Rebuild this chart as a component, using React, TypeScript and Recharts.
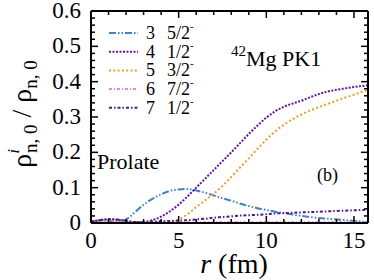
import React from 'react';
import { LineChart, Line, XAxis, YAxis } from 'recharts';

const R = [0, 0.5, 1, 1.5, 2, 2.5, 3, 3.5, 4, 4.5, 5, 5.5, 6, 6.5, 7, 7.5, 8, 8.5, 9, 9.5, 10, 10.5, 11, 11.5, 12, 12.5, 13, 13.5, 14, 14.5, 15, 15.5, 15.8];

const S3 = [0.001, 0.003, 0.005, 0.004, 0.01, 0.03, 0.052, 0.068, 0.081, 0.091, 0.095, 0.096, 0.092, 0.086, 0.078, 0.07, 0.063, 0.055, 0.048, 0.042, 0.037, 0.032, 0.028, 0.024, 0.02, 0.017, 0.014, 0.012, 0.01, 0.008, 0.006, 0.004, 0.003];
const S4 = [0.004, 0.008, 0.01, 0.009, 0.005, 0.003, 0.003, 0.008, 0.018, 0.033, 0.052, 0.075, 0.1, 0.125, 0.15, 0.175, 0.2, 0.226, 0.252, 0.276, 0.298, 0.316, 0.329, 0.338, 0.346, 0.356, 0.365, 0.372, 0.377, 0.381, 0.385, 0.388, 0.39];
const S5 = [0.001, 0.003, 0.005, 0.004, 0.002, 0.001, 0.001, 0.001, 0.001, 0.003, 0.01, 0.025, 0.045, 0.064, 0.083, 0.105, 0.13, 0.157, 0.183, 0.21, 0.236, 0.259, 0.278, 0.294, 0.307, 0.318, 0.328, 0.337, 0.346, 0.355, 0.363, 0.372, 0.377];
const S6 = [0.001, 0.002, 0.003, 0.003, 0.002, 0.002, 0.002, 0.002, 0.002, 0.002, 0.002, 0.002, 0.002, 0.002, 0.002, 0.002, 0.002, 0.002, 0.002, 0.002, 0.002, 0.002, 0.002, 0.002, 0.002, 0.002, 0.002, 0.002, 0.002, 0.002, 0.002, 0.002, 0.002];
const S7 = [0.004, 0.008, 0.011, 0.01, 0.006, 0.003, 0.003, 0.004, 0.005, 0.006, 0.007, 0.008, 0.01, 0.012, 0.015, 0.017, 0.019, 0.021, 0.022, 0.023, 0.025, 0.027, 0.028, 0.029, 0.03, 0.031, 0.032, 0.033, 0.034, 0.035, 0.036, 0.037, 0.038];

const X_TICKS = [0, 1, 2, 3, 4, 5, 6, 7, 8, 9, 10, 11, 12, 13, 14, 15];
const X_MAJOR = [0, 5, 10, 15];
const Y_TICKS = [0, 0.02, 0.04, 0.06, 0.08, 0.1, 0.12, 0.14, 0.16, 0.18, 0.2, 0.22, 0.24, 0.26, 0.28, 0.3, 0.32, 0.34, 0.36, 0.38, 0.4, 0.42, 0.44, 0.46, 0.48, 0.5, 0.52, 0.54, 0.56, 0.58, 0.6];
const Y_MAJOR = [0, 0.1, 0.2, 0.3, 0.4, 0.5, 0.6];
const Y_LABELS = ['0', '0.1', '0.2', '0.3', '0.4', '0.5', '0.6'];

const SERIES = [
  { key: 's3', n: '3', j: '5/2', color: '#3f83c4', dash: '7 2 1.5 2 1.5 2' },
  { key: 's4', n: '4', j: '1/2', color: '#5e1a9c', dash: '2 1.5' },
  { key: 's5', n: '5', j: '3/2', color: '#e3a32b', dash: '2 2.3' },
  { key: 's6', n: '6', j: '7/2', color: '#f07cf0', dash: '3 2 1 2' },
  { key: 's7', n: '7', j: '1/2', color: '#4c1a8a', dash: '3 2 1.5 2' },
];

const data = R.map((r, i) => ({ r, s3: S3[i], s4: S4[i], s5: S5[i], s6: S6[i], s7: S7[i] }));

const FONT = 'Liberation Serif, Times New Roman, serif';

const isMajorY = (v: number) => Y_MAJOR.some(m => Math.abs(m - v) < 1e-9);
const yLabel = (v: number) => Y_LABELS[Y_MAJOR.findIndex(m => Math.abs(m - v) < 1e-9)];

// ticks point inward on all four sides, labels only on the majors
const BottomTick = (p: any) => {
  const major = X_MAJOR.includes(p.payload.value);
  return (
    <g>
      <line x1={p.x} y1={p.y} x2={p.x} y2={p.y - (major ? 7 : 4)} stroke="#000" strokeWidth={1.5} />
      {major && (
        <text x={p.x} y={p.y + 25} textAnchor="middle" fontSize={23} fontFamily={FONT} fill="#000">
          {p.payload.value}
        </text>
      )}
    </g>
  );
};

const TopTick = (p: any) => {
  const major = X_MAJOR.includes(p.payload.value);
  return <line x1={p.x} y1={p.y} x2={p.x} y2={p.y + (major ? 7 : 4)} stroke="#000" strokeWidth={1.5} />;
};

const LeftTick = (p: any) => {
  const major = isMajorY(p.payload.value);
  return (
    <g>
      <line x1={p.x} y1={p.y} x2={p.x + (major ? 7 : 4)} y2={p.y} stroke="#000" strokeWidth={1.5} />
      {major && (
        <text x={p.x - 10} y={p.y + 7} textAnchor="end" fontSize={23} fontFamily={FONT} fill="#000">
          {yLabel(p.payload.value)}
        </text>
      )}
    </g>
  );
};

const RightTick = (p: any) => {
  const major = isMajorY(p.payload.value);
  return <line x1={p.x} y1={p.y} x2={p.x - (major ? 7 : 4)} y2={p.y} stroke="#000" strokeWidth={1.5} />;
};

export default function App() {
  return (
    <div style={{ position: 'absolute', left: 0, top: 0, width: 374, height: 280, background: '#fff' }}>
      <LineChart width={374} height={280} data={data} margin={{ top: 0, right: 0, bottom: 0, left: 0 }}>
        <XAxis
          dataKey="r" type="number" domain={[0, 15.8]} ticks={X_TICKS} interval={0}
          height={57} tickSize={0} tickMargin={0} tick={<BottomTick />}
          axisLine={{ stroke: '#000', strokeWidth: 2 }} tickLine={false} allowDataOverflow
        />
        <XAxis
          xAxisId="top" orientation="top" dataKey="r" type="number" domain={[0, 15.8]} ticks={X_TICKS} interval={0}
          height={11} tickSize={0} tickMargin={0} tick={<TopTick />}
          axisLine={{ stroke: '#000', strokeWidth: 2 }} tickLine={false} allowDataOverflow
        />
        <YAxis
          type="number" domain={[0, 0.6]} ticks={Y_TICKS} interval={0} width={91}
          tickSize={0} tickMargin={0} tick={<LeftTick />}
          axisLine={{ stroke: '#000', strokeWidth: 2 }} tickLine={false} allowDataOverflow
        />
        <YAxis
          yAxisId="right" orientation="right" type="number" domain={[0, 0.6]} ticks={Y_TICKS} interval={0} width={6}
          tickSize={0} tickMargin={0} tick={<RightTick />}
          axisLine={{ stroke: '#000', strokeWidth: 2 }} tickLine={false} allowDataOverflow
        />
        {SERIES.map(s => (
          <Line
            key={s.key} dataKey={s.key} type="monotone" stroke={s.color} strokeWidth={2}
            strokeDasharray={s.dash} dot={false} activeDot={false} isAnimationActive={false}
          />
        ))}
      </LineChart>
      <svg width={374} height={280} style={{ position: 'absolute', left: 0, top: 0, pointerEvents: 'none' }}>
        {/* legend */}
        {SERIES.map((s, i) => {
          const cy = 33 + i * 18.7;
          return (
            <g key={s.key}>
              <line x1={109} y1={cy} x2={138} y2={cy} stroke={s.color} strokeWidth={2} strokeDasharray={s.dash} />
              <text x={146} y={cy + 6} fontSize={18} fontFamily={FONT} fill="#000">{s.n}</text>
              <text x={167} y={cy + 6} fontSize={18} fontFamily={FONT} fill="#000">
                {s.j}
                <tspan dy={-9} fontSize={11}>-</tspan>
              </text>
            </g>
          );
        })}
        <text transform="translate(31,114) rotate(-90)" textAnchor="middle" fontSize={28} fontFamily={FONT} fill="#000">
          ρ
          <tspan dy={-12} fontSize={17} fontStyle="italic">i</tspan>
          <tspan dx={-4} dy={18} fontSize={19}>n, 0</tspan>
          <tspan dy={-6}> / ρ</tspan>
          <tspan dy={6} fontSize={19}>n, 0</tspan>
        </text>
        <text x={234} y={273} textAnchor="middle" fontSize={28} fontFamily={FONT} fill="#000">
          <tspan fontStyle="italic">r</tspan> (fm)
        </text>
        <text x={231} y={66} fontSize={22} fontFamily={FONT} fill="#000">
          <tspan fontSize={15} dy={-10}>42</tspan>
          <tspan dy={10}>Mg  PK1</tspan>
        </text>
        <text x={97} y={169} fontSize={22} fontFamily={FONT} fill="#000">Prolate</text>
        <text x={317} y={181} fontSize={18} fontFamily={FONT} fill="#000">(b)</text>
      </svg>
    </div>
  );
}
